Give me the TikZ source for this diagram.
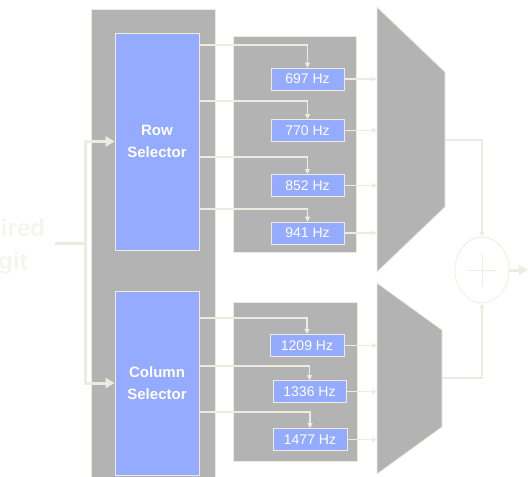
\documentclass[tikz,border=0pt]{standalone}
\usepackage{fontspec}
\setmainfont{Liberation Sans}
\usetikzlibrary{arrows.meta,positioning,shapes.geometric}
\definecolor{panelgray}{HTML}{B3B3B3}
\definecolor{selblue}{HTML}{94ABFF}
\definecolor{wirecol}{HTML}{EEECE1}
\definecolor{ghost}{HTML}{F4F4F1}
\tikzset{>=Stealth}

\begin{document}
\begin{tikzpicture}[x=1pt,y=-1pt,
    panel/.style={fill=panelgray, draw=wirecol, line width=0.8pt},
    selector/.style={fill=selblue, draw=wirecol, line width=0.8pt, minimum width=84pt, inner sep=0pt, align=center, text=white, font=\bfseries\fontsize{15}{22}\selectfont},
    filter/.style={fill=selblue, draw=wirecol, line width=0.6pt, minimum width=73pt, minimum height=22pt, inner sep=0pt, text=white, font=\fontsize{14}{16}\selectfont},
    sig/.style={draw=wirecol, line width=1.2pt, -{Triangle[width=5pt,length=5pt]}},
    bus/.style={draw=wirecol, line width=3pt, -{Triangle[width=10pt,length=9pt]}}
  ]
    \useasboundingbox (0,0) rectangle (528,477);

    % grey panels
    \path[panel] (91,9) rectangle (215,495);
    \path[panel] (233,36) rectangle (356,252);
    \path[panel] (233,302) rectangle (357,461);
    \path[panel] (377,7) -- (445,72) -- (445,207) -- (377,272) -- cycle;
    \path[panel] (377,283) -- (442,330) -- (442,427) -- (377,474) -- cycle;

    % selectors
    \node[selector, minimum height=217pt] (rowsel) at (157,141.5) {Row\\Selector};
    \node[selector, minimum height=184pt] (colsel) at (157,383) {Column\\Selector};

    % filters
    \node[filter] (f697)  at (307.5,79)    {697 Hz};
    \node[filter] (f770)  at (307.5,130.5) {770 Hz};
    \node[filter] (f852)  at (307.5,185.5) {852 Hz};
    \node[filter] (f941)  at (307.5,233)   {941 Hz};
    \node[filter, minimum width=74pt] (f1209) at (307,345.5)   {1209 Hz};
    \node[filter] (f1336) at (309.5,391.5) {1336 Hz};
    \node[filter, minimum width=74pt] (f1477) at (310,439.5)   {1477 Hz};

    % input
    \node[text=ghost, font=\bfseries\fontsize{24}{33}\selectfont, align=center] (digit) at (1,247) {Desired\\Digit};
    \coordinate (split) at (85,243);
    \draw[draw=wirecol, line width=3pt] (55,243) -- (split);
    \draw[bus] (split) |- (rowsel.west);
    \draw[bus] (split) |- (colsel.west);

    % selector outputs
    \draw[sig] (rowsel.east |- 0,45)  -| (f697.north);
    \draw[sig] (rowsel.east |- 0,101) -| (f770.north);
    \draw[sig] (rowsel.east |- 0,157) -| (f852.north);
    \draw[sig] (rowsel.east |- 0,209) -| (f941.north);
    \draw[sig] (colsel.east |- 0,318) -| (f1209.north);
    \draw[sig] (colsel.east |- 0,366) -| (f1336.north);
    \draw[sig] (colsel.east |- 0,412) -| (f1477.north);

    % filter outputs
    \coordinate (muxin) at (377,0);
    \foreach \f in {f697,f770,f852,f941,f1209,f1336,f1477}
      \draw[sig] (\f.east) -- (\f.east -| muxin);

    % adder
    \coordinate (mux1out) at (445,140);
    \coordinate (mux2out) at (442,378);
    \node[ellipse, draw=wirecol, line width=0.8pt, minimum width=54pt, minimum height=66pt, inner sep=0pt] (sum) at (482,270) {};
    \draw[wirecol, line width=0.5pt] ([yshift=-16pt]sum.center) -- ([yshift=16pt]sum.center)
      ([xshift=-14pt]sum.center) -- ([xshift=14pt]sum.center);
    \draw[sig] (mux1out) -| (sum.north);
    \draw[sig] (mux2out) -| (sum.south);
    \coordinate (out) at (528,270);
    \draw[bus] (sum.east) -- (out);
\end{tikzpicture}
\end{document}
